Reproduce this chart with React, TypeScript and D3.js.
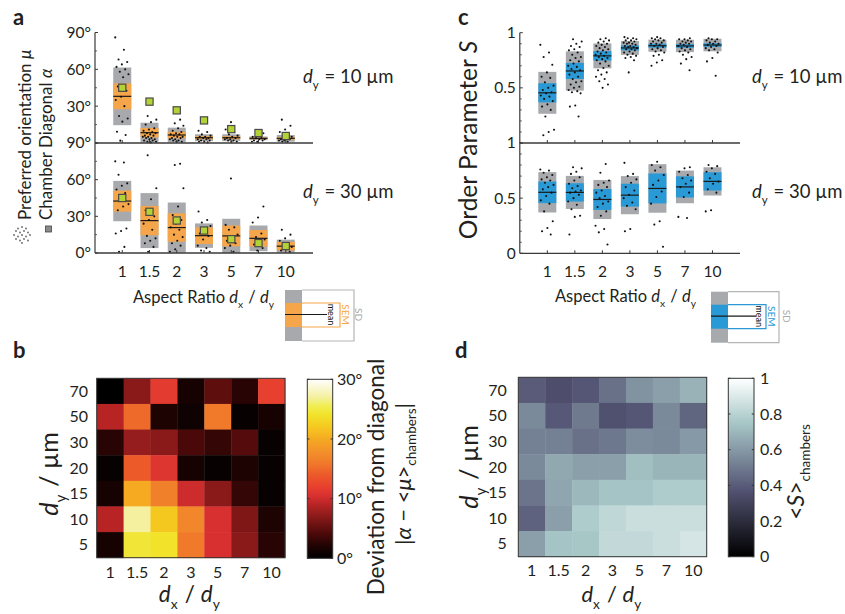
import React from "react";
import * as d3 from "d3";

// ---------- shared categories ----------
const ratios = ["1", "1.5", "2", "3", "5", "7", "10"];
const dyRows = ["70", "50", "30", "20", "15", "10", "5"];

// ---------- panel a : orientation (degrees) ----------
const chamberDiagonal = [45, 33.7, 26.6, 18.4, 11.3, 8.1, 5.7];
const muMean10 = [38, 8.4, 6.5, 4.3, 4.3, 3.8, 3.8];
const muSD10 = [23.5, 8.1, 6, 2.8, 2.8, 1.5, 2.7];
const muSEM10 = [10.5, 3.8, 2.7, 1.3, 1.2, 0.8, 1.0];
const muMean30 = [42.5, 26.5, 20.8, 14.2, 14, 12, 5.6];
const muSD30 = [16.5, 22.5, 20.5, 10, 14, 10.5, 5.3];
const muSEM30 = [8.6, 12, 11.6, 6.8, 8.5, 6.8, 3.5];
const muPts10 = [
  [86, 76, 68, 66, 64, 62, 60, 58, 56, 53.5, 46, 42.6, 37.7, 35, 30, 22, 20, 17.4, 9.2, 6.5, 1.9],
  [22, 19, 17, 15, 12, 11, 10, 9, 8, 8, 7, 6, 6, 5, 5, 4, 4, 3, 3, 2, 2, 1, 1, 0.5],
  [19, 16, 14, 12, 10, 9, 8, 7, 7, 6, 5, 5, 4, 4, 3, 3, 2, 2, 1, 1],
  [10, 9, 7, 6, 5, 5, 4, 4, 3, 3, 2, 2, 1, 1, 0.5],
  [17, 11, 9, 7, 6, 5, 4, 4, 3, 3, 2, 2, 1, 1],
  [8, 6, 5, 4, 4, 3, 3, 2, 2, 1, 1],
  [19, 14, 11, 9, 7, 6, 5, 4, 3, 3, 2, 2, 1, 1],
];
const muPts30 = [
  [75, 74, 64, 57, 55, 52, 49, 45, 40, 38, 35, 20, 18, 16, 5, 1],
  [80, 53, 44, 35, 30, 27, 24, 19, 14, 12, 10, 8, 5, 1],
  [73, 72, 53, 38, 31, 27, 24, 21, 19, 15, 13, 10, 8, 6, 3, 1],
  [34, 27, 25, 22, 20, 16, 14, 11, 6, 4, 2, 1],
  [61, 23, 21, 19, 15, 13, 10, 8, 6, 4, 1],
  [38, 29, 25, 16, 13, 11, 9, 7, 4, 2],
  [19, 15, 12, 10, 8, 6, 5, 4, 2, 1],
];
const degTicksMajor = [0, 30, 60, 90];
const degTicksMinor = [15, 45, 75];

// ---------- panel c : order parameter S ----------
const sMean10 = [0.455, 0.653, 0.79, 0.862, 0.882, 0.88, 0.888];
const sSD10 = [0.19, 0.178, 0.113, 0.063, 0.055, 0.056, 0.057];
const sSEM10 = [0.087, 0.073, 0.043, 0.023, 0.018, 0.017, 0.016];
const sMean30 = [0.553, 0.552, 0.488, 0.527, 0.588, 0.602, 0.652];
const sSD30 = [0.183, 0.15, 0.177, 0.173, 0.22, 0.148, 0.128];
const sSEM30 = [0.098, 0.083, 0.095, 0.104, 0.136, 0.096, 0.083];
const sPts10 = [
  [0.89, 0.82, 0.78, 0.71, 0.64, 0.6, 0.59, 0.55, 0.52, 0.5, 0.48, 0.46, 0.45, 0.43, 0.42, 0.4, 0.38, 0.35, 0.33, 0.3, 0.24, 0.12, 0.1, 0.07],
  [0.94, 0.92, 0.9, 0.88, 0.87, 0.85, 0.84, 0.82, 0.8, 0.78, 0.77, 0.75, 0.74, 0.72, 0.7, 0.69, 0.67, 0.66, 0.64, 0.62, 0.6, 0.58, 0.56, 0.55, 0.53, 0.51, 0.5, 0.48, 0.47, 0.46, 0.45, 0.34, 0.33, 0.24],
  [0.95, 0.94, 0.93, 0.92, 0.91, 0.9, 0.89, 0.88, 0.87, 0.86, 0.85, 0.84, 0.83, 0.82, 0.81, 0.8, 0.79, 0.78, 0.77, 0.76, 0.75, 0.74, 0.72, 0.7, 0.68, 0.66, 0.64, 0.62, 0.6, 0.58, 0.56, 0.53, 0.5],
  [0.96, 0.95, 0.95, 0.94, 0.93, 0.93, 0.92, 0.91, 0.91, 0.9, 0.9, 0.89, 0.88, 0.88, 0.87, 0.87, 0.86, 0.85, 0.85, 0.84, 0.83, 0.82, 0.81, 0.8, 0.79, 0.78, 0.77, 0.75, 0.64],
  [0.96, 0.95, 0.95, 0.94, 0.93, 0.93, 0.92, 0.91, 0.9, 0.9, 0.89, 0.88, 0.87, 0.86, 0.85, 0.84, 0.83, 0.82, 0.8, 0.79, 0.75, 0.73, 0.7],
  [0.95, 0.94, 0.94, 0.93, 0.92, 0.92, 0.91, 0.9, 0.9, 0.89, 0.88, 0.87, 0.86, 0.85, 0.84, 0.83, 0.82, 0.8, 0.78, 0.76, 0.72, 0.66],
  [0.95, 0.94, 0.94, 0.93, 0.92, 0.91, 0.9, 0.9, 0.89, 0.88, 0.87, 0.86, 0.85, 0.84, 0.82, 0.77, 0.74, 0.61],
];
const sPts30 = [
  [0.76, 0.75, 0.73, 0.71, 0.69, 0.67, 0.66, 0.64, 0.62, 0.6, 0.58, 0.55, 0.52, 0.48, 0.45, 0.38, 0.29, 0.23, 0.2, 0.17],
  [0.78, 0.77, 0.74, 0.72, 0.69, 0.66, 0.63, 0.61, 0.59, 0.57, 0.56, 0.55, 0.53, 0.5, 0.47, 0.44, 0.4, 0.34, 0.33, 0.17],
  [0.81, 0.73, 0.66, 0.64, 0.62, 0.6, 0.57, 0.55, 0.52, 0.5, 0.47, 0.45, 0.42, 0.38, 0.34, 0.25, 0.22, 0.19, 0.08],
  [0.82, 0.72, 0.7, 0.67, 0.64, 0.6, 0.57, 0.53, 0.5, 0.46, 0.43, 0.4, 0.22, 0.2],
  [0.83, 0.8, 0.78, 0.75, 0.71, 0.66, 0.62, 0.56, 0.51, 0.45, 0.29, 0.26, 0.06],
  [0.78, 0.77, 0.74, 0.71, 0.68, 0.66, 0.63, 0.6, 0.55, 0.51, 0.33, 0.32],
  [0.8, 0.79, 0.77, 0.74, 0.72, 0.68, 0.65, 0.63, 0.58, 0.55, 0.39, 0.38],
];
const sTicksMajor = [0, 0.5, 1];
const sTicksMinor = [0.1, 0.2, 0.3, 0.4, 0.6, 0.7, 0.8, 0.9];

// ---------- panel b : deviation from diagonal (deg), rows dy = 70 ... 5 ----------
const dev70 = [0, 7, 11.5, 1.5, 5, 2.5, 12];
const dev50 = [9, 15, 2, 1, 16, 0.5, 1.5];
const dev30 = [2.5, 7.5, 7, 4, 3, 4.5, 0.5];
const dev20 = [0.5, 14, 11, 1.5, 0.5, 2, 0.5];
const dev15 = [1.5, 20, 16.5, 10, 7, 3, 0.5];
const dev10 = [9, 27, 22, 17, 10.5, 6.5, 2];
const dev5 = [1.5, 24.5, 24, 16, 10.5, 7, 2.5];
const devTicks = [0, 10, 20, 30];

// ---------- panel d : <S> chambers, rows dy = 70 ... 5 ----------
const s70 = [0.4, 0.35, 0.38, 0.47, 0.58, 0.62, 0.68];
const s50 = [0.55, 0.39, 0.5, 0.36, 0.38, 0.55, 0.43];
const s30 = [0.52, 0.52, 0.47, 0.49, 0.56, 0.55, 0.6];
const s20 = [0.55, 0.65, 0.62, 0.62, 0.72, 0.69, 0.69];
const s15 = [0.48, 0.64, 0.7, 0.74, 0.74, 0.77, 0.77];
const s10 = [0.42, 0.62, 0.77, 0.82, 0.85, 0.85, 0.85];
const s5 = [0.62, 0.74, 0.75, 0.83, 0.83, 0.85, 0.88];
const sBarTicks = [0, 0.2, 0.4, 0.6, 0.8, 1];

// ---------- style ----------
const FONT = "Lato, 'Open Sans', sans-serif";
const INK = "#231f20";
const AX = "#3a3a3a";
const GRAY = "#a7a9ac";
const ORANGE = "#f6a64a";
const BLUE = "#2a9ad6";
const GREEN = "#b3d235";

const hotStops: [number, string][] = [
  [0, "#000000"], [2, "#1e0303"], [4, "#4a0808"], [7, "#8a1a1a"], [9, "#b82424"],
  [10.5, "#d83030"], [12, "#e8402e"], [14, "#ec5a2a"], [16, "#f07a2a"], [18, "#f3922a"],
  [20, "#f5aa22"], [22, "#f5c820"], [24, "#f2e22a"], [25.5, "#f0ee50"], [27, "#f4f0a0"], [30, "#ffffff"],
];
const hotColor = d3
  .scaleLinear<string>()
  .domain(hotStops.map((d) => d[0]))
  .range(hotStops.map((d) => d[1]))
  .interpolate(d3.interpolateRgb)
  .clamp(true);

function bone(t: number) {
  const hr = Math.min(1, t / 0.375);
  const hg = Math.max(0, Math.min(1, (t - 0.375) / 0.375));
  const hb = Math.max(0, Math.min(1, (t - 0.75) / 0.25));
  return d3.rgb((255 * (7 * t + hb)) / 8, (255 * (7 * t + hg)) / 8, (255 * (7 * t + hr)) / 8).formatHex();
}

const jitter = (k: number, col: number) => (((k * 0.618034 + col * 0.37) % 1) - 0.5) * 14;

// ---------- helpers ----------
function Sub({ main, sub, size }: { main: string; sub: string; size: number }) {
  return (
    <>
      <tspan fontStyle="italic">{main}</tspan>
      <tspan fontSize={size * 0.62} dy={size * 0.3}>{sub}</tspan>
      <tspan dy={-size * 0.3}>{"\u200A"}</tspan>
    </>
  );
}

function Boxes({ x, y, mean, sd, sem, pts, fill, lo, hi, squares }: any) {
  const c = (v: number) => Math.max(lo, Math.min(hi, v));
  const bw = 18;
  return (
    <g>
      {mean.map((m: number, i: number) => {
        const cx = x(i);
        const gTop = y(c(m + sd[i]));
        const gBot = y(c(m - sd[i]));
        const sTop = y(c(m + sem[i]));
        const sBot = y(c(m - sem[i]));
        return (
          <g key={i}>
            <rect x={cx - bw / 2} y={gTop} width={bw} height={gBot - gTop} fill={GRAY} />
            <rect x={cx - bw / 2} y={sTop} width={bw} height={sBot - sTop} fill={fill} />
            <line x1={cx - bw / 2} x2={cx + bw / 2} y1={y(m)} y2={y(m)} stroke="#1a1a1a" strokeWidth={1.2} />
          </g>
        );
      })}
      {pts.map((arr: number[], i: number) =>
        arr.map((v, k) => <circle key={i + "-" + k} cx={x(i) + jitter(k, i)} cy={y(v)} r={1.05} fill="#111" />)
      )}
      {squares &&
        squares.map((v: number, i: number) => (
          <rect key={"sq" + i} x={x(i) - 3.6} y={y(v) - 3.6} width={7.2} height={7.2} fill={GREEN} stroke="#4a4a4a" strokeWidth={1.2} />
        ))}
    </g>
  );
}

function LeftAxis({ x0, scales, major, minor, labels }: any) {
  return (
    <g>
      {scales.map((s: any, si: number) => (
        <g key={si}>
          {major.map((v: number) => (
            <line key={"M" + v} x1={x0} x2={x0 + 3} y1={s(v)} y2={s(v)} stroke={AX} strokeWidth={1} />
          ))}
          {minor.map((v: number) => (
            <line key={"m" + v} x1={x0} x2={x0 + 2} y1={s(v)} y2={s(v)} stroke={AX} strokeWidth={0.8} />
          ))}
        </g>
      ))}
      {labels.map((l: any, i: number) => (
        <text key={i} x={x0 - 4} y={l.y} dy="0.35em" textAnchor="end" fontSize={15.5} fill={INK}>
          {l.t}
        </text>
      ))}
    </g>
  );
}

function BoxLegend({ x0, y0, fill, lineEnd, semEnd, sdEnd, meanX, semX, sdX }: any) {
  const top = y0, bot = y0 + 51, sTop = y0 + 13, sBot = y0 + 37, mid = y0 + 24.5;
  return (
    <g>
      <rect x={x0} y={top} width={17} height={bot - top} fill={GRAY} />
      <rect x={x0} y={sTop} width={17} height={sBot - sTop} fill={fill} />
      <polyline points={`${x0 + 17},${top} ${sdEnd},${top} ${sdEnd},${bot} ${x0 + 17},${bot}`} fill="none" stroke="#b5b5b5" strokeWidth={1.2} />
      <polyline points={`${x0 + 17},${sTop} ${semEnd},${sTop} ${semEnd},${sBot} ${x0 + 17},${sBot}`} fill="none" stroke={fill} strokeWidth={1.2} />
      <line x1={x0} x2={lineEnd} y1={mid} y2={mid} stroke="#1a1a1a" strokeWidth={1.2} />
      <text transform={`translate(${meanX},${mid}) rotate(90)`} textAnchor="middle" fontSize={9} fill="#111">mean</text>
      <text transform={`translate(${semX},${mid}) rotate(90)`} textAnchor="middle" fontSize={10} fill={fill}>SEM</text>
      <text transform={`translate(${sdX},${mid}) rotate(90)`} textAnchor="middle" fontSize={10} fill="#aaaaaa">SD</text>
    </g>
  );
}

export default function App() {
  // panel a scales
  const xA = d3.scaleLinear().domain([-1, 7]).range([95, 313]);
  const yA10 = d3.scaleLinear().domain([0, 90]).range([143, 32.5]);
  const yA30 = d3.scaleLinear().domain([0, 90]).range([253, 143]);
  // panel c scales
  const xC = d3.scaleLinear().domain([-1, 7]).range([519.8, 740]);
  const yC10 = d3.scaleLinear().domain([0, 1]).range([143, 32.7]);
  const yC30 = d3.scaleLinear().domain([0, 1]).range([253.3, 143]);
  // heatmaps
  const xB = d3.scaleBand().domain(ratios).range([96.7, 285]);
  const yB = d3.scaleBand().domain(dyRows).range([378.3, 557.7]);
  const xD = d3.scaleBand().domain(ratios).range([518.3, 706.7]);
  const yD = d3.scaleBand().domain(dyRows).range([377.3, 556.7]);
  const devGrid = [dev70, dev50, dev30, dev20, dev15, dev10, dev5];
  const sGrid = [s70, s50, s30, s20, s15, s10, s5];
  const cbB = d3.scaleLinear().domain([0, 30]).range([558.3, 379.3]);
  const cbD = d3.scaleLinear().domain([0, 1]).range([556.7, 378.3]);

  const idx = ratios.map((_, i) => i);

  const xTicks = (xs: any, y: number) =>
    idx.map((i) => <line key={"t" + y + i} x1={xs(i)} x2={xs(i)} y1={y} y2={y - 3} stroke={AX} strokeWidth={1} />);

  const dotIcon: [number, number][] = [];
  [-8, -4, 0, 4, 8].forEach((dx, a) =>
    [-8, -4, 0, 4, 8].forEach((dy, b) => {
      const ox = dx + (b % 2 ? 2 : 0);
      const oy = dy + (a % 2 ? 1.5 : 0);
      if (ox * ox + oy * oy < 85) dotIcon.push([ox, oy]);
    })
  );

  return (
    <div style={{ position: "absolute", left: 0, top: 0 }}>
      <svg width={845} height={614} fontFamily={FONT} style={{ display: "block", background: "#fff" }}>
        {/* ================= panel a ================= */}
        <text x={13} y={25} fontSize={22} fontWeight="bold" fill={INK}>a</text>
        <Boxes x={xA} y={yA10} mean={muMean10} sd={muSD10} sem={muSEM10} pts={muPts10} fill={ORANGE} lo={0} hi={90} squares={chamberDiagonal} />
        <Boxes x={xA} y={yA30} mean={muMean30} sd={muSD30} sem={muSEM30} pts={muPts30} fill={ORANGE} lo={0} hi={90} squares={chamberDiagonal} />
        <line x1={95} x2={95} y1={32.5} y2={253} stroke={AX} strokeWidth={1.2} />
        <line x1={95} x2={313} y1={143} y2={143} stroke={AX} strokeWidth={1.3} />
        <line x1={95} x2={313} y1={253} y2={253} stroke={AX} strokeWidth={1.3} />
        {xTicks(xA, 143)}
        {xTicks(xA, 253)}
        <LeftAxis
          x0={95}
          scales={[yA10, yA30]}
          major={degTicksMajor}
          minor={degTicksMinor}
          labels={[
            { y: yA10(90), t: "90°" }, { y: yA10(60), t: "60°" }, { y: yA10(30), t: "30°" },
            { y: yA30(90), t: "90°" }, { y: yA30(60), t: "60°" }, { y: yA30(30), t: "30°" }, { y: yA30(0), t: "0°" },
          ]}
        />
        {ratios.map((r, i) => (
          <text key={"xa" + r} x={xA(i)} y={277} textAnchor="middle" fontSize={15.5} fill={INK}>{r}</text>
        ))}
        <text x={204} y={303} textAnchor="middle" fontSize={16.5} fill={INK}>
          Aspect Ratio <Sub main="d" sub="x" size={16.5} /> / <Sub main="d" sub="y" size={16.5} />
        </text>
        <text x={303} y={83} fontSize={18.5} fill={INK}>
          <Sub main="d" sub="y" size={18.5} /> = 10 µm
        </text>
        <text x={303} y={198} fontSize={18.5} fill={INK}>
          <Sub main="d" sub="y" size={18.5} /> = 30 µm
        </text>
        <text transform="translate(31,220) rotate(-90)" fontSize={17} fill={INK}>
          Preferred orientation <tspan fontStyle="italic">μ</tspan>
        </text>
        <text transform="translate(52,220) rotate(-90)" fontSize={17} fill={INK}>
          Chamber Diagonal <tspan fontStyle="italic">α</tspan>
        </text>
        {dotIcon.map((p, i) => (
          <circle key={"di" + i} cx={22 + p[0]} cy={235 + p[1]} r={0.9} fill="#666" />
        ))}
        <rect x={45.5} y={226} width={6} height={6} fill="#8a8a8a" stroke="#444" strokeWidth={0.8} />
        <BoxLegend x0={285} y0={290} fill={ORANGE} lineEnd={327} semEnd={340} sdEnd={354} meanX={328} semX={342} sdX={355} />

        {/* ================= panel c ================= */}
        <text x={458} y={25} fontSize={22} fontWeight="bold" fill={INK}>c</text>
        <Boxes x={xC} y={yC10} mean={sMean10} sd={sSD10} sem={sSEM10} pts={sPts10} fill={BLUE} lo={0} hi={1} />
        <Boxes x={xC} y={yC30} mean={sMean30} sd={sSD30} sem={sSEM30} pts={sPts30} fill={BLUE} lo={0} hi={1} />
        <line x1={519.8} x2={519.8} y1={32.7} y2={253.3} stroke={AX} strokeWidth={1.2} />
        <line x1={519.8} x2={740} y1={143} y2={143} stroke={AX} strokeWidth={1.3} />
        <line x1={519.8} x2={740} y1={253.3} y2={253.3} stroke={AX} strokeWidth={1.3} />
        {xTicks(xC, 143)}
        {xTicks(xC, 253.3)}
        <LeftAxis
          x0={519.8}
          scales={[yC10, yC30]}
          major={sTicksMajor}
          minor={sTicksMinor}
          labels={[
            { y: yC10(1), t: "1" }, { y: yC10(0.5), t: "0.5" },
            { y: yC30(1), t: "1" }, { y: yC30(0.5), t: "0.5" }, { y: yC30(0), t: "0" },
          ]}
        />
        {ratios.map((r, i) => (
          <text key={"xc" + r} x={xC(i)} y={277} textAnchor="middle" fontSize={15.5} fill={INK}>{r}</text>
        ))}
        <text x={626} y={302} textAnchor="middle" fontSize={16.5} fill={INK}>
          Aspect Ratio <Sub main="d" sub="x" size={16.5} /> / <Sub main="d" sub="y" size={16.5} />
        </text>
        <text x={752} y={83} fontSize={18.5} fill={INK}>
          <Sub main="d" sub="y" size={18.5} /> = 10 µm
        </text>
        <text x={752} y={198} fontSize={18.5} fill={INK}>
          <Sub main="d" sub="y" size={18.5} /> = 30 µm
        </text>
        <text transform="translate(477,140) rotate(-90)" textAnchor="middle" fontSize={24.5} fill={INK}>
          Order Parameter <tspan fontStyle="italic">S</tspan>
        </text>
        <BoxLegend x0={711} y0={291.7} fill={BLUE} lineEnd={756} semEnd={766} sdEnd={779} meanX={756} semX={768} sdX={783} />

        {/* ================= panel b ================= */}
        <text x={13} y={358} fontSize={22} fontWeight="bold" fill={INK}>b</text>
        {devGrid.map((row, ri) =>
          row.map((v, ci) => (
            <rect key={"b" + ri + "-" + ci} x={xB(ratios[ci])!} y={yB(dyRows[ri])!} width={xB.bandwidth() + 0.4} height={yB.bandwidth() + 0.4} fill={hotColor(v)} />
          ))
        )}
        <rect x={96.7} y={378.3} width={285 - 96.7} height={557.7 - 378.3} fill="none" stroke="#333" strokeWidth={1} />
        {ratios.map((r) => (
          <text key={"xb" + r} x={xB(r)! + xB.bandwidth() / 2} y={578} textAnchor="middle" fontSize={16} fill={INK}>{r}</text>
        ))}
        {dyRows.map((r) => (
          <text key={"yb" + r} x={88} y={yB(r)! + yB.bandwidth() / 2} dy="0.35em" textAnchor="end" fontSize={16} fill={INK}>{r}</text>
        ))}
        <text transform="translate(58,474) rotate(-90)" textAnchor="middle" fontSize={25} fill={INK}>
          <Sub main="d" sub="y" size={25} /> / µm
        </text>
        <text x={190} y={602} textAnchor="middle" fontSize={22.5} fill={INK}>
          <Sub main="d" sub="x" size={22.5} /> / <Sub main="d" sub="y" size={22.5} />
        </text>
        {/* colorbars */}
        <defs>
          <linearGradient id="gradB" x1="0" y1="1" x2="0" y2="0">
            {d3.range(0, 1.0001, 0.02).map((t) => (
              <stop key={t} offset={t} stopColor={hotColor(t * 30)} />
            ))}
          </linearGradient>
          <linearGradient id="gradD" x1="0" y1="1" x2="0" y2="0">
            {d3.range(0, 1.0001, 0.02).map((t) => (
              <stop key={t} offset={t} stopColor={bone(t)} />
            ))}
          </linearGradient>
        </defs>
        <rect x={307.3} y={379.3} width={25.4} height={179} fill="url(#gradB)" stroke="#333" strokeWidth={1} />
        {devTicks.map((t) => (
          <g key={"cbb" + t}>
            <line x1={307.3} x2={309.5} y1={cbB(t)} y2={cbB(t)} stroke="#333" />
            <line x1={330.5} x2={332.7} y1={cbB(t)} y2={cbB(t)} stroke="#333" />
            <text x={337} y={cbB(t)} dy="0.35em" fontSize={16} fill={INK}>{t}°</text>
          </g>
        ))}
        <text transform="translate(384,477) rotate(-90)" textAnchor="middle" fontSize={22.5} fill={INK}>
          Deviation from diagonal
        </text>
        <text transform="translate(411,474) rotate(-90)" textAnchor="middle" fontSize={22} fill={INK}>
          |<tspan fontStyle="italic">α</tspan> − &lt;<tspan fontStyle="italic">μ</tspan>&gt;<tspan fontSize={13.5} dy={5}>chambers</tspan>
          <tspan dy={-5}>|</tspan>
        </text>

        {/* ================= panel d ================= */}
        <text x={455} y={358} fontSize={22} fontWeight="bold" fill={INK}>d</text>
        {sGrid.map((row, ri) =>
          row.map((v, ci) => (
            <rect key={"d" + ri + "-" + ci} x={xD(ratios[ci])!} y={yD(dyRows[ri])!} width={xD.bandwidth() + 0.4} height={yD.bandwidth() + 0.4} fill={bone(v)} />
          ))
        )}
        <rect x={518.3} y={377.3} width={706.7 - 518.3} height={556.7 - 377.3} fill="none" stroke="#333" strokeWidth={1} />
        {ratios.map((r) => (
          <text key={"xd" + r} x={xD(r)! + xD.bandwidth() / 2} y={576} textAnchor="middle" fontSize={16} fill={INK}>{r}</text>
        ))}
        {dyRows.map((r) => (
          <text key={"yd" + r} x={506.7} y={yD(r)! + yD.bandwidth() / 2} dy="0.35em" textAnchor="end" fontSize={16} fill={INK}>{r}</text>
        ))}
        <text transform="translate(478,467) rotate(-90)" textAnchor="middle" fontSize={25} fill={INK}>
          <Sub main="d" sub="y" size={25} /> / µm
        </text>
        <text x={612} y={602} textAnchor="middle" fontSize={22} fill={INK}>
          <Sub main="d" sub="x" size={22} /> / <Sub main="d" sub="y" size={22} />
        </text>
        <rect x={728.3} y={378.3} width={25.7} height={178.4} fill="url(#gradD)" stroke="#333" strokeWidth={1} />
        {sBarTicks.map((t) => (
          <g key={"cbd" + t}>
            <line x1={728.3} x2={730.5} y1={cbD(t)} y2={cbD(t)} stroke="#333" />
            <line x1={751.8} x2={754} y1={cbD(t)} y2={cbD(t)} stroke="#333" />
            <text x={760} y={cbD(t)} dy="0.35em" fontSize={16} fill={INK}>{t === 0 || t === 1 ? String(t) : t.toFixed(1)}</text>
          </g>
        ))}
        <text transform="translate(804,472) rotate(-90)" textAnchor="middle" fontSize={23} fill={INK}>
          &lt;<tspan fontStyle="italic">S</tspan>&gt;<tspan fontSize={13.5} dy={6}>chambers</tspan>
        </text>
      </svg>
    </div>
  );
}
